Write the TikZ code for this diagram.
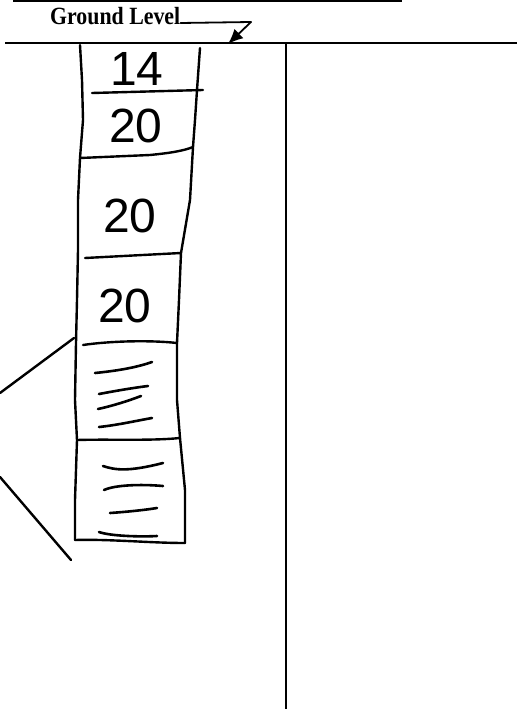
\documentclass[tikz,border=0pt]{standalone}
\usepackage{fontspec}
\setmainfont{Liberation Serif}
\newfontfamily\handfont{Liberation Sans}
\usetikzlibrary{arrows.meta}
\tikzset{
  ink/.style={line width=2.4pt, line cap=round, line join=round},
  thinink/.style={line width=1.8pt, line cap=round, line join=round},
  hatch/.style={line width=2.6pt, line cap=round},
  digits/.style={font=\handfont\fontsize{48}{48}\selectfont, inner sep=0pt},
  label/.style={font=\bfseries\fontsize{21}{21}\selectfont, inner sep=0pt, anchor=base west}
}
\begin{document}
\begin{tikzpicture}[x=1pt,y=-1pt]
\useasboundingbox (0,0) rectangle (517,709);
% top rule
\draw[line width=2.6pt] (13,1) -- (402,1);
% ground level label and arrow
\node[label] (gl) at (50,25) {\scalebox{1.04}[1.18]{Ground Level}};
\coordinate (ulA) at ([shift={(0,-2)}]gl.base east);
\coordinate (ulB) at (251,22);
\coordinate (tip) at (228,44);
\draw[thinink] (ulA) -- (ulB);
\draw[thinink, -{Latex[length=15pt,width=13pt]}] (ulB) -- (tip);
% ground line and vertical line
\coordinate (g0) at (5,43);
\coordinate (g1) at (517,43);
\draw[line width=2.4pt] (g0) -- (g1);
\coordinate (v0) at (286,43);
\coordinate (v1) at (286,709);
\draw[line width=2pt] (v0) -- (v1);
% column edges
\draw[ink] (80,45) -- (82,80) -- (83,120) -- (80,158) -- (78,200) -- (78,250) -- (77,300) -- (76,343) -- (75,400) -- (77,440) -- (75,500) -- (75,540);
\draw[ink] (200,48) -- (197,90) -- (195,120) -- (193,147) -- (190,200) -- (181,253) -- (179,300) -- (177,343) -- (177,400) -- (180,438) -- (185,490) -- (185,543);
% separators
\draw[ink] (92,93) -- (203,90);
\draw[ink] (80,158) -- (150,155) .. controls (170,153) and (183,151) .. (193,147);
\draw[ink] (85,258) -- (181,253);
\draw[ink] (83,345) .. controls (110,341) and (150,340) .. (177,343);
\draw[ink] (77,440) .. controls (110,439) and (150,441) .. (180,438);
\draw[ink] (75,540) .. controls (110,539) and (150,543) .. (185,543);
% numbers
\node[digits] (n14) at (137,69) {14};
\node[digits] (n20a) at (136,126) {20};
\node[digits] (n20b) at (130,216) {20};
\node[digits] (n20c) at (125,306) {20};
% hatching in box 5
\draw[hatch] (95,373) .. controls (115,371) and (135,368) .. (152,362);
\draw[hatch] (99,394) .. controls (115,391) and (132,388) .. (148,386);
\draw[hatch] (98,409) .. controls (112,406) and (128,401) .. (141,396);
\draw[hatch] (99,427) .. controls (118,425) and (135,421) .. (152,418);
% hatching in box 6
\draw[hatch] (103,466) .. controls (115,470) and (128,472) .. (163,463);
\draw[hatch] (104,490) .. controls (115,485) and (140,484) .. (163,486);
\draw[hatch] (110,513) .. controls (125,512) and (145,510) .. (157,508);
\draw[hatch] (99,532) .. controls (110,536) and (140,537) .. (157,536);
% diagonal lines to the left
\coordinate (d1a) at (74,338);
\coordinate (d1b) at (0,393);
\coordinate (d2a) at (0,477);
\coordinate (d2b) at (71,560);
\draw[ink] (d1a) -- (d1b);
\draw[ink] (d2a) -- (d2b);
\end{tikzpicture}
\end{document}
